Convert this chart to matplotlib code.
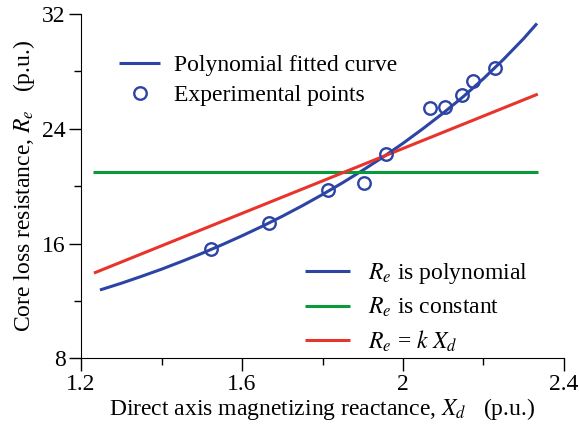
import matplotlib
matplotlib.use('Agg')
import matplotlib.pyplot as plt
from matplotlib.ticker import MultipleLocator

plt.rcParams['font.family'] = ['Liberation Serif', 'DejaVu Serif']
plt.rcParams['mathtext.fontset'] = 'stix'

# experimental points
exp_x = [1.523, 1.667, 1.814, 1.903, 1.958, 2.067, 2.104, 2.147, 2.174, 2.229]
exp_y = [15.62, 17.43, 19.73, 20.22, 22.24, 25.44, 25.51, 26.35, 27.32, 28.23]

# polynomial fitted curve
poly_x = [1.247, 1.30, 1.35, 1.40, 1.45, 1.50, 1.55, 1.60, 1.65, 1.70, 1.75,
          1.80, 1.85, 1.90, 1.95, 2.00, 2.05, 2.10, 2.15, 2.20, 2.25, 2.30, 2.333]
poly_y = [12.76, 13.23, 13.71, 14.21, 14.75, 15.31, 15.91, 16.54, 17.2, 17.9, 18.64,
          19.42, 20.24, 21.11, 22.02, 22.99, 24.02, 25.1, 26.25, 27.5, 28.85, 30.3, 31.35]

# constant Re
const_x = [1.23, 2.335]
const_y = [21.0, 21.0]

# Re = k Xd
lin_x = [1.232, 2.335]
lin_y = [13.94, 26.42]

blue = '#2c44a4'
green = '#0a9a3c'
red = '#e8342a'
fs = 17

fig = plt.figure(figsize=(5.79, 4.28), dpi=100)
fig.patch.set_facecolor('w')
ax = fig.add_axes([0.140, 0.163, 0.834, 0.804])

l_poly, = ax.plot(poly_x, poly_y, color=blue, lw=2.2, solid_capstyle='butt')
l_const, = ax.plot(const_x, const_y, color=green, lw=2.2, solid_capstyle='butt')
l_lin, = ax.plot(lin_x, lin_y, color=red, lw=2.2, solid_capstyle='butt')
l_exp, = ax.plot(exp_x, exp_y, 'o', ms=9, mfc='none', mec=blue, mew=1.7)

# axis setting
ax.set_xlim(1.2, 2.4)
ax.set_ylim(8, 32)
ax.spines['top'].set_visible(False)
ax.spines['right'].set_visible(False)
ax.set_xticks([1.2, 1.6, 2.0, 2.4])
ax.set_xticklabels(['1.2', '1.6', '2', '2.4'])
ax.set_yticks([8, 16, 24, 32])
ax.xaxis.set_minor_locator(MultipleLocator(0.2))
ax.yaxis.set_minor_locator(MultipleLocator(4))
ax.tick_params(which='major', direction='out', length=9, width=1, labelsize=fs, pad=2)
ax.tick_params(which='minor', direction='out', length=5, width=1)
ax.set_xlabel('Direct axis magnetizing reactance, $X_d$   (p.u.)', fontsize=fs, labelpad=1)
ax.set_ylabel('Core loss resistance, $R_e$   (p.u.)', fontsize=fs, labelpad=4)

leg1 = ax.legend([l_poly, l_exp], ['Polynomial fitted curve', 'Experimental points'],
                 loc='upper left', bbox_to_anchor=(0.06, 0.91), frameon=False,
                 fontsize=fs, handlelength=1.7, handletextpad=0.6, labelspacing=0.35,
                 borderaxespad=0)
ax.add_artist(leg1)
ax.legend([l_poly, l_const, l_lin],
          ['$R_e$ is polynomial', '$R_e$ is constant', '$R_e$ = $k\\ X_d$'],
          loc='lower left', bbox_to_anchor=(0.445, -0.015), frameon=False,
          fontsize=fs, handlelength=1.9, handletextpad=0.75, labelspacing=0.4,
          borderaxespad=0)

fig.savefig('out.png', dpi=100)
